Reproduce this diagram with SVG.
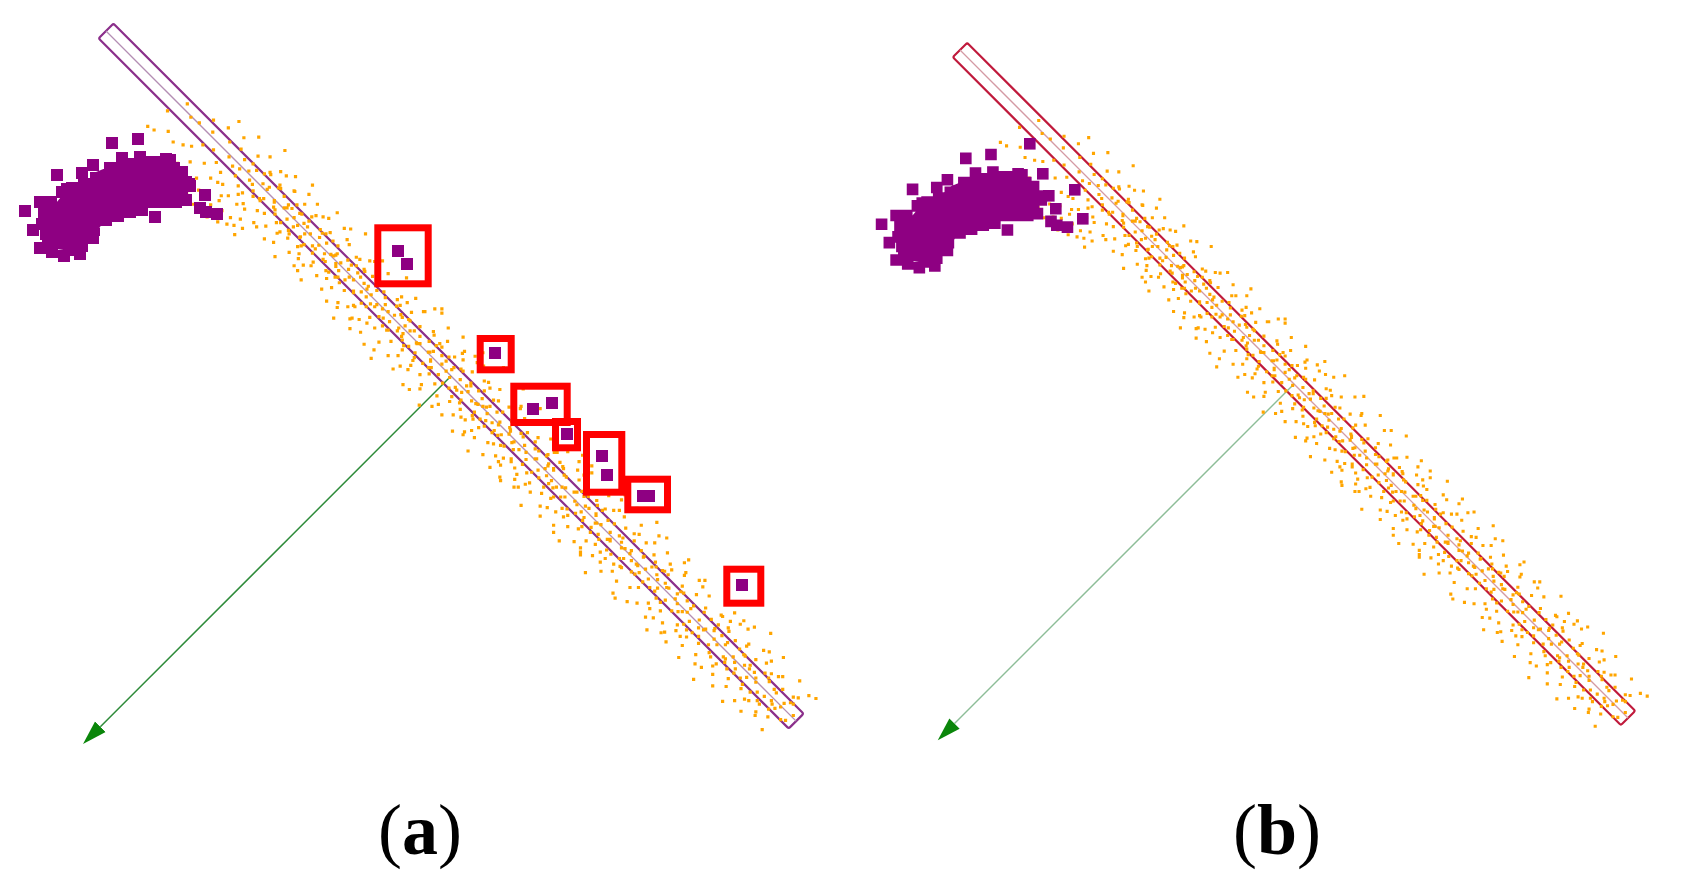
<svg xmlns="http://www.w3.org/2000/svg" xmlns:xlink="http://www.w3.org/1999/xlink" width="1682" height="885" viewBox="0 0 1682 885">
<style>
.dots{fill:none;stroke:#FFA500;stroke-width:3.2;stroke-linecap:square}
.sq{fill:#8E0082}
.box{fill:none;stroke:#FF0000;stroke-width:7}
.bar{fill:none;stroke-width:2.2}
.mid{stroke-width:1.3}
.lbl{font-family:"Liberation Serif","Times New Roman",serif;font-size:72px;fill:#000}
</style>
<defs>
<marker id="ah" markerUnits="userSpaceOnUse" viewBox="0 -8 25 16" refX="0" refY="0" markerWidth="25" markerHeight="16" orient="auto">
<path d="M0,-7.5L24.5,0L0,7.5z" fill="#0A860A"/>
</marker>
<path id="orange" class="dots" d="M97 38l.01-.01M100 13l.01-.01M104 36l.01-.01M109-6l.01-.01M115 27l.01-.01M121 1l.01-.01M126 31l.01-.01M131-1l.01-.01M135 26l.01-.01M139-13l.01-.01
M142 21l.01-.01M144 43l.01-.01M147-4l.01-.01M149 12l.01-.01M152 33l.01-.01M155-18l.01-.01M158-30l.01-.01M160 8l.01-.01M163 24l.01-.01M166-9l.01-.01M168 40l.01-.01M171 15l.01-.01M173-22l.01-.01M176 2l.01-.01M178 30l.01-.01M179-12l.01-.01
M181 19l.01-.01M183-33l.01-.01M185 6l.01-.01M187 41l.01-.01M189-7l.01-.01M191 26l.01-.01M194 11l.01-.01M196-19l.01-.01M198 35l.01-.01M200-2l.01-.01M203 16l.01-.01M205-27l.01-.01M207 4l.01-.01M209 22l.01-.01M211-42l.01-.01M213-11l.01-.01M215 30l.01-.01M217 9l.01-.01M218-15l.01-.01M220 44l.01-.01
M221 13l.01-.01M223-24l.01-.01M224 28l.01-.01M226-5l.01-.01M228 38l.01-.01M230 7l.01-.01M232-14l.01-.01M234 20l.01-.01M236 43l.01-.01M237-31l.01-.01M239 1l.01-.01M241 17l.01-.01M243-9l.01-.01M245 32l.01-.01M247-20l.01-.01M249 10l.01-.01M251 25l.01-.01M253-3l.01-.01M255-37l.01-.01M256 15l.01-.01M258-12l.01-.01M259 35l.01-.01
M261 5l.01-.01M263-18l.01-.01M264 22l.01-.01M266-8l.01-.01M268 31l.01-.01M270 12l.01-.01M272-27l.01-.01M273 2l.01-.01M275 18l.01-.01M277-14l.01-.01M279 40l.01-.01M281-4l.01-.01M283 9l.01-.01M285-22l.01-.01M286 27l.01-.01M288-1l.01-.01M290 14l.01-.01M292-35l.01-.01M294 21l.01-.01M296-10l.01-.01M298 6l.01-.01M299 33l.01-.01
M301-16l.01-.01M303 11l.01-.01M305 26l.01-.01M306-6l.01-.01M308-29l.01-.01M310 17l.01-.01M312 3l.01-.01M314 38l.01-.01M316-12l.01-.01M318 8l.01-.01M320-2l.01-.01M322 24l.01-.01M323-21l.01-.01M325 14l.01-.01M327-40l.01-.01M329 4l.01-.01M331 19l.01-.01M333-9l.01-.01M335 30l.01-.01M337-17l.01-.01M338 10l.01-.01M340-3l.01-.01
M341 22l.01-.01M343-11l.01-.01M345 7l.01-.01M347 35l.01-.01M349-24l.01-.01M351 1l.01-.01M352 15l.01-.01M354-6l.01-.01M356 28l.01-.01M358-33l.01-.01M360 10l.01-.01M362-15l.01-.01M364 42l.01-.01M365 4l.01-.01M367-2l.01-.01M369 19l.01-.01M371-28l.01-.01M373 12l.01-.01M375-8l.01-.01M376 31l.01-.01M378-19l.01-.01M380 6l.01-.01
M381-12l.01-.01M383 25l.01-.01M385 2l.01-.01M387-38l.01-.01M389 16l.01-.01M391-4l.01-.01M393 33l.01-.01M395 9l.01-.01M397-21l.01-.01M398-1l.01-.01M400 20l.01-.01M402-14l.01-.01M404 39l.01-.01M406 5l.01-.01M408-30l.01-.01M410 13l.01-.01M412-7l.01-.01M413 27l.01-.01M415-17l.01-.01M417 3l.01-.01M419 44l.01-.01M420-10l.01-.01
M421 18l.01-.01M423-26l.01-.01M425 7l.01-.01M427-3l.01-.01M429 30l.01-.01M431-13l.01-.01M433 12l.01-.01M434-41l.01-.01M436 23l.01-.01M438-6l.01-.01M440 1l.01-.01M442 36l.01-.01M444-19l.01-.01M446 9l.01-.01M448-9l.01-.01M450 16l.01-.01M452-32l.01-.01M453 26l.01-.01M455-1l.01-.01M457-15l.01-.01M459 11l.01-.01M460 40l.01-.01
M461-22l.01-.01M463 4l.01-.01M465 21l.01-.01M467-8l.01-.01M469-36l.01-.01M471 14l.01-.01M473-2l.01-.01M475 31l.01-.01M477-16l.01-.01M478 8l.01-.01M480-27l.01-.01M482 17l.01-.01M484-5l.01-.01M486 43l.01-.01M488 2l.01-.01M490-12l.01-.01M492 24l.01-.01M494-39l.01-.01M495 10l.01-.01M497-4l.01-.01M499 29l.01-.01M500-18l.01-.01
M502 6l.01-.01M504-30l.01-.01M505 19l.01-.01M507-9l.01-.01M509 34l.01-.01M511-1l.01-.01M513 13l.01-.01M515-20l.01-.01M517 26l.01-.01M519-43l.01-.01M520 3l.01-.01M522-13l.01-.01M524 22l.01-.01M526-6l.01-.01M528 38l.01-.01M530 9l.01-.01M532-25l.01-.01M534 15l.01-.01M535-3l.01-.01M537 30l.01-.01M539-16l.01-.01M540 1l.01-.01
M542-35l.01-.01M544 17l.01-.01M546-7l.01-.01M548 27l.01-.01M550 4l.01-.01M551-19l.01-.01M553 41l.01-.01M555-2l.01-.01M557 11l.01-.01M559-28l.01-.01M561 21l.01-.01M563-11l.01-.01M565 6l.01-.01M566 33l.01-.01M568-4l.01-.01M570-22l.01-.01M572 14l.01-.01M574-40l.01-.01M576 25l.01-.01M578-9l.01-.01M579 2l.01-.01M580 37l.01-.01
M582-14l.01-.01M584 8l.01-.01M586 28l.01-.01M588-32l.01-.01M589-3l.01-.01M591 18l.01-.01M593-18l.01-.01M595 1l.01-.01M597 39l.01-.01M599-8l.01-.01M601 12l.01-.01M603-26l.01-.01M604 23l.01-.01M606-1l.01-.01M608-44l.01-.01M610 15l.01-.01M612-11l.01-.01M614 31l.01-.01M616 5l.01-.01M617-21l.01-.01M619 20l.01-.01M620-5l.01-.01
M622 10l.01-.01M624-29l.01-.01M626 26l.01-.01M627-6l.01-.01M629 42l.01-.01M631-15l.01-.01M633 3l.01-.01M635 19l.01-.01M637-37l.01-.01M639 7l.01-.01M641-10l.01-.01M643 29l.01-.01M644-23l.01-.01M646 13l.01-.01M648-2l.01-.01M650 36l.01-.01M652-17l.01-.01M654 5l.01-.01M656-31l.01-.01M658 22l.01-.01M659-7l.01-.01M660 15l.01-.01
M662-20l.01-.01M664 1l.01-.01M666 33l.01-.01M667-9l.01-.01M669 16l.01-.01M671-41l.01-.01M673 9l.01-.01M675-3l.01-.01M677 24l.01-.01M679-15l.01-.01M681 40l.01-.01M682 6l.01-.01M684-27l.01-.01M686 18l.01-.01M688-5l.01-.01M690-12l.01-.01M692 30l.01-.01M694 2l.01-.01M696-33l.01-.01M697 12l.01-.01M699-1l.01-.01M700 21l.01-.01
M702-24l.01-.01M704 8l.01-.01M706 35l.01-.01M708-11l.01-.01M709 17l.01-.01M711-2l.01-.01M713-38l.01-.01M715 27l.01-.01M717 4l.01-.01M719-16l.01-.01M721 13l.01-.01M722 44l.01-.01M724-7l.01-.01M726 20l.01-.01M728-29l.01-.01M730 1l.01-.01M732 32l.01-.01M734-13l.01-.01M736 10l.01-.01M737-42l.01-.01M739-4l.01-.01M740 24l.01-.01
M742 15l.01-.01M744-20l.01-.01M746 3l.01-.01M748-34l.01-.01M750 28l.01-.01M752-8l.01-.01M754 11l.01-.01M756 39l.01-.01M758-17l.01-.01M760 6l.01-.01M762-1l.01-.01M764 23l.01-.01M766-28l.01-.01M768-10l.01-.01M770 17l.01-.01M772 35l.01-.01M774-5l.01-.01M776-22l.01-.01M778 9l.01-.01M780 29l.01-.01
M782-13l.01-.01M784 4l.01-.01M786-38l.01-.01M788 21l.01-.01M790 12l.01-.01M792-4l.01-.01M794-24l.01-.01M796 33l.01-.01M798 7l.01-.01M800-15l.01-.01M802 18l.01-.01M804-1l.01-.01M806 41l.01-.01M808-31l.01-.01M810 10l.01-.01M812 25l.01-.01M814-8l.01-.01M816-19l.01-.01M818 3l.01-.01M820 30l.01-.01
M822-9l.01-.01M824 16l.01-.01M826-27l.01-.01M828 36l.01-.01M830 5l.01-.01M832-16l.01-.01M834 22l.01-.01M836-3l.01-.01M838-40l.01-.01M840 11l.01-.01M842 27l.01-.01M844-12l.01-.01M846 1l.01-.01M848 38l.01-.01M850-22l.01-.01M852 14l.01-.01M854-6l.01-.01M856-33l.01-.01M858 24l.01-.01M860 8l.01-.01
M862-18l.01-.01M864 31l.01-.01M866 2l.01-.01M868-29l.01-.01M870 15l.01-.01M872-7l.01-.01M874 43l.01-.01M876-14l.01-.01M878 20l.01-.01M880-37l.01-.01M882 6l.01-.01M884 26l.01-.01M886-1l.01-.01M888-21l.01-.01M890 12l.01-.01M892 34l.01-.01M894-10l.01-.01M896-44l.01-.01M898 18l.01-.01M900-3l.01-.01
M902 25l.01-.01M904-15l.01-.01M906 9l.01-.01M908-30l.01-.01M910 38l.01-.01M912-5l.01-.01M914 16l.01-.01M916-25l.01-.01M918 29l.01-.01M920 1l.01-.01M922-36l.01-.01M924 21l.01-.01M926-11l.01-.01M928 7l.01-.01M930 32l.01-.01M932-19l.01-.01M934 13l.01-.01M938-7l.01-.01
M941 22l.01-.01M944-13l.01-.01M947 5l.01-.01M950-31l.01-.01M953 17l.01-.01M955-4l.01-.01M958 30l.01-.01M961-18l.01-.01M964 10l.01-.01M967-27l.01-.01M970-2l.01-.01M974-30l.01-.01
M205-8l.01-.01M212 5l.01-.01M219-3l.01-.01M227 10l.01-.01M233-11l.01-.01M240 2l.01-.01M246 7l.01-.01M252-6l.01-.01M259 12l.01-.01M265-1l.01-.01M271 6l.01-.01M278-9l.01-.01M284 3l.01-.01M291 11l.01-.01M297-5l.01-.01M302 1l.01-.01M309-12l.01-.01M315 8l.01-.01M321-4l.01-.01M328 13l.01-.01M334 5l.01-.01M339-8l.01-.01M346 2l.01-.01M353-13l.01-.01M359 9l.01-.01M366-5l.01-.01M372 4l.01-.01M379 11l.01-.01M386-9l.01-.01M392 1l.01-.01M399 7l.01-.01M405-3l.01-.01M411 12l.01-.01M418-10l.01-.01M424 4l.01-.01M430-6l.01-.01M437 9l.01-.01M443-1l.01-.01M449 13l.01-.01M456-11l.01-.01M462 3l.01-.01M468 8l.01-.01M474-7l.01-.01M481 0l.01-.01M487 11l.01-.01M493-12l.01-.01M499 5l.01-.01M506-4l.01-.01M512 10l.01-.01M518-9l.01-.01M525 2l.01-.01M531 13l.01-.01M537-6l.01-.01M544 7l.01-.01M550-11l.01-.01M556 1l.01-.01M563 9l.01-.01M569-3l.01-.01M575 12l.01-.01M582-8l.01-.01M588 4l.01-.01M594-13l.01-.01M600 6l.01-.01M607-2l.01-.01M613 11l.01-.01M619-7l.01-.01M626 3l.01-.01M632 13l.01-.01M638-10l.01-.01M645 0l.01-.01M651 8l.01-.01M657-5l.01-.01M664 12l.01-.01M670-12l.01-.01M676 4l.01-.01M683 9l.01-.01M689-4l.01-.01M695 1l.01-.01M701-9l.01-.01M708 11l.01-.01M714 5l.01-.01M720-6l.01-.01M727 13l.01-.01M733-1l.01-.01M739 7l.01-.01M746-11l.01-.01M752 2l.01-.01M758 10l.01-.01M765-7l.01-.01M771 4l.01-.01M777-13l.01-.01M784 8l.01-.01M790-3l.01-.01M796 12l.01-.01M803-10l.01-.01M809 1l.01-.01M815 6l.01-.01M822-5l.01-.01M828 11l.01-.01M834-12l.01-.01M841 3l.01-.01M847 9l.01-.01M853-8l.01-.01M860 0l.01-.01M866 13l.01-.01M872-4l.01-.01M879 6l.01-.01M885-11l.01-.01M891 2l.01-.01M898 10l.01-.01M904-7l.01-.01M910 4l.01-.01M917-2l.01-.01M923 12l.01-.01M929-9l.01-.01M936 5l.01-.01M942-6l.01-.01M948 11l.01-.01M955 1l.01-.01M962-10l.01-.01M968 7l.01-.01
M733-21l.01-.01M288 17l.01-.01M512-34l.01-.01M641 4l.01-.01M377 29l.01-.01M865-16l.01-.01M456-2l.01-.01M219 25l.01-.01M594 37l.01-.01M802-6l.01-.01M341-18l.01-.01M687 14l.01-.01M903-27l.01-.01M268-9l.01-.01M529 21l.01-.01M755-38l.01-.01M418 6l.01-.01M612-13l.01-.01M944 3l.01-.01M305 34l.01-.01M480-24l.01-.01M839 18l.01-.01M251-1l.01-.01M566-5l.01-.01M701 30l.01-.01M389-30l.01-.01M928 19l.01-.01M657-20l.01-.01M435 16l.01-.01M778-2l.01-.01
M192 3l.01-.01M318-23l.01-.01M547 12l.01-.01M815-29l.01-.01M473 27l.01-.01M626-16l.01-.01M884 9l.01-.01M361-4l.01-.01M709-33l.01-.01M240 31l.01-.01M583 21l.01-.01M957-15l.01-.01M400-11l.01-.01M671 38l.01-.01M283 8l.01-.01M509-7l.01-.01M848-22l.01-.01M744 15l.01-.01M429-36l.01-.01M606 28l.01-.01M327 2l.01-.01M892-10l.01-.01M216-16l.01-.01M560-26l.01-.01M793 24l.01-.01M466 10l.01-.01M679-4l.01-.01M371 19l.01-.01M914-20l.01-.01
M259-28l.01-.01M538 33l.01-.01M764-13l.01-.01M447-17l.01-.01M633 7l.01-.01M297 25l.01-.01M822 0l.01-.01M491-31l.01-.01M718 19l.01-.01M351-14l.01-.01M578 4l.01-.01M871 29l.01-.01M229 11l.01-.01M652-24l.01-.01M415 36l.01-.01M786-5l.01-.01M524-19l.01-.01M938 14l.01-.01M313-33l.01-.01M694 8l.01-.01M452 21l.01-.01M603-9l.01-.01M761 41l.01-.01M276-4l.01-.01M859-24l.01-.01M385 5l.01-.01M548-42l.01-.01M725 26l.01-.01M203 30l.01-.01M620-1l.01-.01
M920-12l.01-.01M336 12l.01-.01M497-28l.01-.01M667 20l.01-.01M812-35l.01-.01M441 1l.01-.01M589 16l.01-.01M246-20l.01-.01M752-9l.01-.01M366 24l.01-.01M896 6l.01-.01M535-13l.01-.01M704 33l.01-.01M292-11l.01-.01M468 39l.01-.01M639-30l.01-.01M834 13l.01-.01M405-21l.01-.01M570 0l.01-.01M729-18l.01-.01M186 28l.01-.01M877-31l.01-.01M321-6l.01-.01M518 17l.01-.01M683-12l.01-.01M428 9l.01-.01M793-27l.01-.01M611 34l.01-.01M959-9l.01-.01M265 19l.01-.01
M484-8l.01-.01M716 3l.01-.01M353-27l.01-.01M649 25l.01-.01M906-4l.01-.01M235-12l.01-.01M557 8l.01-.01M818 33l.01-.01M396-16l.01-.01M740-1l.01-.01M593-37l.01-.01M311 21l.01-.01M461-14l.01-.01M863-8l.01-.01M678-28l.01-.01M211 18l.01-.01M527 1l.01-.01M769 10l.01-.01M383 38l.01-.01M626-7l.01-.01M943 25l.01-.01M279-18l.01-.01M503 14l.01-.01M695-39l.01-.01M847-1l.01-.01M424-27l.01-.01M598 20l.01-.01M330-2l.01-.01M781-19l.01-.01M541 24l.01-.01
M257-6l.01-.01M445 29l.01-.01M662-11l.01-.01M888-18l.01-.01M374-1l.01-.01M519-22l.01-.01M736 18l.01-.01M302 6l.01-.01M615-19l.01-.01M827 21l.01-.01M409-8l.01-.01M691-15l.01-.01M582 27l.01-.01M952 6l.01-.01M226-2l.01-.01M473-12l.01-.01M754 2l.01-.01M343 13l.01-.01M868-34l.01-.01M507 4l.01-.01M645 16l.01-.01M290-25l.01-.01M775-12l.01-.01M437-38l.01-.01M563-15l.01-.01M912 12l.01-.01M359 32l.01-.01M710-23l.01-.01M198-10l.01-.01M532-1l.01-.01
M806-11l.01-.01M391 22l.01-.01M668 2l.01-.01M273 14l.01-.01M588-32l.01-.01M853-13l.01-.01M458-5l.01-.01M726-3l.01-.01M317-1l.01-.01M617 24l.01-.01M935-22l.01-.01M243 6l.01-.01M496 35l.01-.01M785-33l.01-.01M420-3l.01-.01M651-36l.01-.01M349-7l.01-.01M879 16l.01-.01M566 18l.01-.01M230-25l.01-.01M698-20l.01-.01M485-20l.01-.01M802 28l.01-.01M404 13l.01-.01M633-14l.01-.01M925-16l.01-.01M299-12l.01-.01M750-26l.01-.01M539 10l.01-.01M381-22l.01-.01
M165 52l.01-.01M172 58l.01-.01M178 47l.01-.01M184 61l.01-.01M190 54l.01-.01M197 49l.01-.01M203 60l.01-.01M209 45l.01-.01M214 56l.01-.01M222 51l.01-.01M228 47l.01-.01M188 43l.01-.01M170 45l.01-.01M200 40l.01-.01M235 53l.01-.01"/>
<path id="cluster" class="sq" d="M47 214L61 197L82 185L96 172L118 163L150 163L172 163L180 173L185 186L178 197L160 202L137 206L118 213L104 221L96 233L84 243L70 251L57 249L49 240L45 228z
M106 137h12v12h-12zM132 133h12v12h-12zM51 169h12v12h-12zM87 159h12v12h-12zM76 167h12v12h-12zM34 196h12v12h-12zM19 205h12v12h-12zM27 224h12v12h-12zM34 242h12v12h-12zM58 250h12v12h-12zM74 248h12v12h-12zM87 232h12v12h-12zM149 211h12v12h-12zM199 189h12v12h-12zM194 202h12v12h-12zM200 206h12v12h-12zM211 208h12v12h-12zM116 152h12v12h-12zM134 151h12v12h-12zM160 153h12v12h-12zM183 178h12v12h-12z
M38 208h12v12h-12zM50 204h12v12h-12zM62 200h12v12h-12zM74 196h12v12h-12zM86 192h12v12h-12z
M36 218h12v12h-12zM48 216h12v12h-12zM60 212h12v12h-12zM72 208h12v12h-12zM84 204h12v12h-12zM96 200h12v12h-12z
M40 228h12v12h-12zM52 226h12v12h-12zM64 222h12v12h-12zM76 218h12v12h-12zM88 214h12v12h-12z
M42 238h12v12h-12zM54 236h12v12h-12zM66 232h12v12h-12zM78 230h12v12h-12zM88 224h12v12h-12z
M46 246h12v12h-12zM62 244h12v12h-12zM76 240h12v12h-12z
M56 186h12v12h-12zM66 182h12v12h-12zM78 178h12v12h-12zM90 172h12v12h-12zM61 183h12v12h-12zM45 196h12v12h-12z
M104 162h12v12h-12zM116 158h12v12h-12zM128 158h12v12h-12zM140 156h12v12h-12zM152 156h12v12h-12zM164 154h12v12h-12z
M96 172h12v12h-12zM108 170h12v12h-12zM120 168h12v12h-12zM132 166h12v12h-12zM144 166h12v12h-12zM156 164h12v12h-12zM168 162h12v12h-12zM176 166h12v12h-12z
M84 184h12v12h-12zM96 182h12v12h-12zM108 180h12v12h-12zM120 178h12v12h-12zM132 176h12v12h-12zM144 176h12v12h-12zM156 174h12v12h-12zM168 174h12v12h-12zM180 176h12v12h-12z
M92 194h12v12h-12zM104 192h12v12h-12zM116 190h12v12h-12zM128 188h12v12h-12zM140 186h12v12h-12zM152 186h12v12h-12zM164 186h12v12h-12zM176 186h12v12h-12zM184 180h12v12h-12z
M98 204h12v12h-12zM110 202h12v12h-12zM122 200h12v12h-12zM134 198h12v12h-12zM146 196h12v12h-12zM158 196h12v12h-12zM170 196h12v12h-12zM180 194h12v12h-12z
M100 214h12v12h-12zM112 210h12v12h-12zM124 206h12v12h-12zM136 204h12v12h-12z"/>
</defs>

<g id="panel-a">
  <g id="bar-a" transform="translate(106,31) rotate(45)">
    <rect class="bar" x="0" y="-10.5" width="976" height="21" rx="2" stroke="#8B2F8B"/>
    <line class="mid" x1="0" y1="0" x2="976" y2="0" stroke="#B48EB4"/>
  </g>
  <g id="connectors-a" transform="translate(106,31) rotate(45)">
    <line x1="488" y1="0" x2="488" y2="496" stroke="#2E8B3A" stroke-width="1.5" marker-end="url(#ah)"/>
  </g>
  <use id="dots-a" href="#orange" xlink:href="#orange" transform="translate(106,31) rotate(45)"/>
  <use id="cluster-a" href="#cluster" xlink:href="#cluster"/>
  <g id="outliers-a" class="sq">
    <rect x="392" y="245" width="12" height="12"/>
    <rect x="401" y="258" width="12" height="12"/>
    <rect x="489" y="347" width="12" height="12"/>
    <rect x="527" y="403" width="12" height="12"/>
    <rect x="546" y="397" width="12" height="12"/>
    <rect x="561" y="428" width="12" height="12"/>
    <rect x="596" y="450" width="12" height="12"/>
    <rect x="601" y="469" width="12" height="12"/>
    <rect x="637" y="490" width="18" height="12"/>
    <rect x="736" y="579" width="12" height="12"/>
  </g>
  <g id="boxes-a" class="box">
    <rect x="377.8" y="227.8" width="50.4" height="56"/>
    <rect x="480.2" y="338.5" width="31" height="31.3"/>
    <rect x="513.8" y="386.2" width="53.4" height="36.3"/>
    <rect x="555.5" y="421.5" width="22" height="26.3"/>
    <rect x="586.5" y="434.5" width="35.3" height="57.7"/>
    <rect x="627.8" y="479.2" width="39.7" height="30.6"/>
    <rect x="726.8" y="569.2" width="34" height="34"/>
  </g>
  <text id="label-a" class="lbl" x="420" y="854" text-anchor="middle">(<tspan font-weight="bold">a</tspan>)</text>
</g>

<g id="panel-b">
  <g id="bar-b" transform="translate(960,50) scale(0.968) rotate(45)">
    <rect class="bar" x="0" y="-10.5" width="976" height="21" rx="2" stroke="#C01A3C"/>
    <line class="mid" x1="0" y1="0" x2="976" y2="0" stroke="#D49AA4"/>
  </g>
  <g id="connectors-b" transform="translate(960,50) scale(0.968) rotate(45)">
    <line x1="488" y1="0" x2="488" y2="496" stroke="#8DBD98" stroke-width="1.5" marker-end="url(#ah)"/>
  </g>
  <use id="dots-b" href="#orange" xlink:href="#orange" transform="translate(960,50) scale(0.968) rotate(45)"/>
  <use id="cluster-b" href="#cluster" xlink:href="#cluster" transform="translate(960,50) scale(0.968) translate(-106,-31)"/>
  <g id="extra-b" class="sq">
    <rect x="1024" y="138" width="11.6" height="11.6"/>
    <rect x="1069" y="184" width="11.6" height="11.6"/>
    <rect x="1077" y="213" width="11.6" height="11.6"/>
    <rect x="1037" y="168" width="11.6" height="11.6"/>
    <rect x="1043" y="190" width="11.6" height="11.6"/>
  </g>
  <text id="label-b" class="lbl" x="1277" y="854" text-anchor="middle">(<tspan font-weight="bold">b</tspan>)</text>
</g>
</svg>
